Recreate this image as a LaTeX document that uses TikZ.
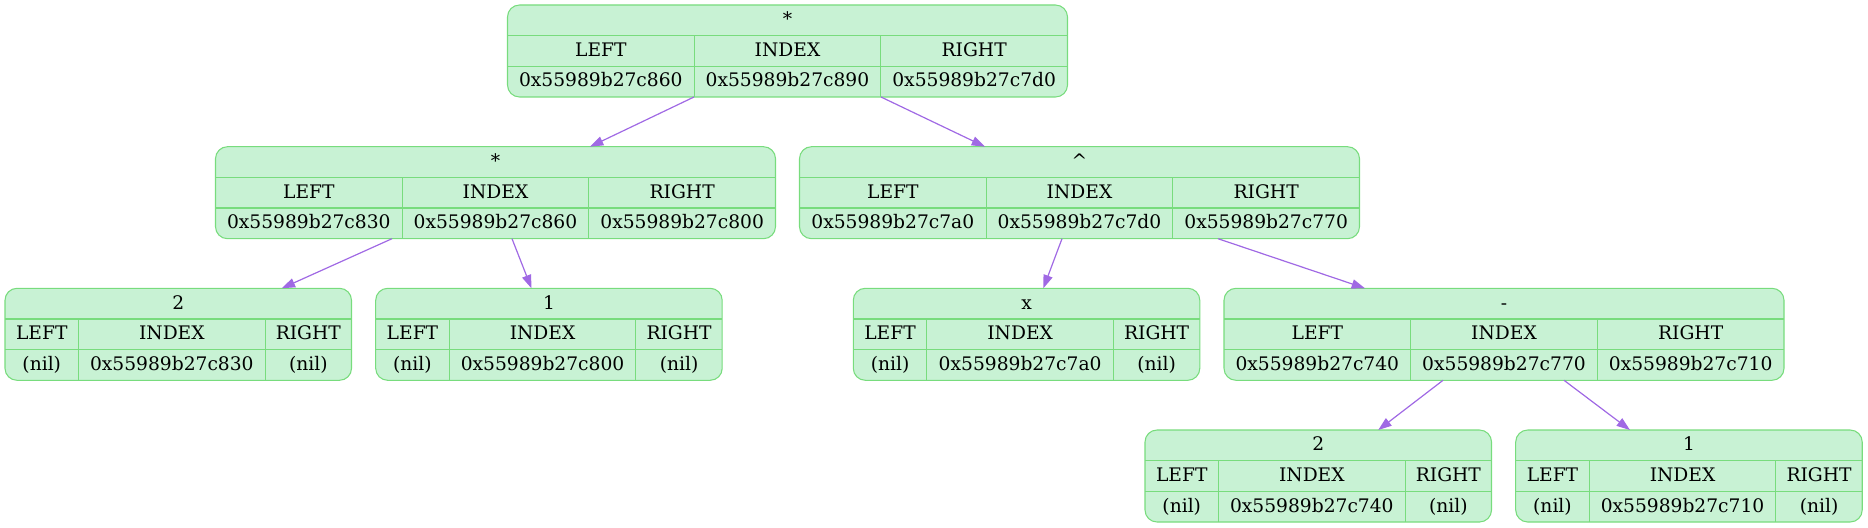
\documentclass[tikz,border=0pt]{standalone}
\usepackage{fontspec}
\setmainfont{DejaVu Serif}
\usetikzlibrary{calc,arrows.meta}
\definecolor{recfill}{RGB}{200,242,212}
\definecolor{recdraw}{RGB}{120,220,125}
\definecolor{edgecol}{RGB}{160,105,228}
\tikzset{
  recbox/.style={draw=recdraw, fill=recfill, line width=0.8pt, rounded corners=9pt,
    minimum height=69pt, inner sep=0pt, outer sep=0pt},
  recline/.style={draw=recdraw, line width=0.8pt},
  lbl/.style={anchor=base, inner sep=0pt, font=\fontsize{14pt}{16pt}\selectfont},
  edge/.style={draw=edgecol, line width=0.9pt, -{Triangle[length=10pt,width=7pt]}},
}
% name, left, top, title, v1, v2, v3
\newcommand\bigrec[7]{%
  \node[recbox, minimum width=420pt] (#1) at ({#2+280},{#3+46}) {};
  \draw[recline] ({#2},{#3+30.67}) -- ++(560,0);
  \draw[recline] ({#2},{#3+61.33}) -- ++(560,0);
  \draw[recline] ({#2+186.67},{#3+30.67}) -- ++(0,61.33);
  \draw[recline] ({#2+373.33},{#3+30.67}) -- ++(0,61.33);
  \node[lbl] (#1-t) at ({#2+280},{#3+20.7}) {#4};
  \node[lbl] (#1-hl) at ({#2+93.33},{#3+51.3}) {LEFT};
  \node[lbl] (#1-hi) at ({#2+280},{#3+51.3}) {INDEX};
  \node[lbl] (#1-hr) at ({#2+466.67},{#3+51.3}) {RIGHT};
  \node[lbl] (#1-vl) at ({#2+93.33},{#3+82}) {#5};
  \node[lbl] (#1-vi) at ({#2+280},{#3+82}) {#6};
  \node[lbl] (#1-vr) at ({#2+466.67},{#3+82}) {#7};
}
% name, left, top, title, index
\newcommand\smallrec[5]{%
  \node[recbox, minimum width=259.875pt] (#1) at ({#2+173.25},{#3+46}) {};
  \draw[recline] ({#2},{#3+30.67}) -- ++(346.5,0);
  \draw[recline] ({#2},{#3+61.33}) -- ++(346.5,0);
  \draw[recline] ({#2+73.5},{#3+30.67}) -- ++(0,61.33);
  \draw[recline] ({#2+260.2},{#3+30.67}) -- ++(0,61.33);
  \node[lbl] (#1-t) at ({#2+173.25},{#3+20.7}) {#4};
  \node[lbl] (#1-hl) at ({#2+36.75},{#3+51.3}) {LEFT};
  \node[lbl] (#1-hi) at ({#2+166.85},{#3+51.3}) {INDEX};
  \node[lbl] (#1-hr) at ({#2+303.35},{#3+51.3}) {RIGHT};
  \node[lbl] (#1-vl) at ({#2+36.75},{#3+82}) {(nil)};
  \node[lbl] (#1-vi) at ({#2+166.85},{#3+82}) {#5};
  \node[lbl] (#1-vr) at ({#2+303.35},{#3+82}) {(nil)};
}
\begin{document}
\begin{tikzpicture}[x=0.75pt,y=-0.75pt]
\useasboundingbox (0,0) rectangle (1868,528);
\bigrec{root}{507.5}{5}{*}{0x55989b27c860}{0x55989b27c890}{0x55989b27c7d0}
\bigrec{mula}{215.5}{146.7}{*}{0x55989b27c830}{0x55989b27c860}{0x55989b27c800}
\bigrec{pow}{799.5}{146.7}{\textasciicircum}{0x55989b27c7a0}{0x55989b27c7d0}{0x55989b27c770}
\smallrec{twoa}{5}{288.3}{2}{0x55989b27c830}
\smallrec{onea}{375.7}{288.3}{1}{0x55989b27c800}
\smallrec{varx}{853.3}{288.3}{x}{0x55989b27c7a0}
\bigrec{minus}{1224}{288.3}{-}{0x55989b27c740}{0x55989b27c770}{0x55989b27c710}
\smallrec{twob}{1145}{430}{2}{0x55989b27c740}
\smallrec{oneb}{1515.7}{430}{1}{0x55989b27c710}

\draw[edge] ($(root.south)+(-93.5,0)$) -- ($(mula.north)+(94.5,0)$);
\draw[edge] ($(root.south)+(93.5,0)$) -- ($(pow.north)+(-94.5,0)$);
\draw[edge] ($(mula.south)+(-103.5,0)$) -- ($(twoa.north)+(103.5,0)$);
\draw[edge] ($(mula.south)+(16.5,0)$) -- ($(onea.north)+(-17.5,0)$);
\draw[edge] ($(pow.south)+(-17.5,0)$) -- ($(varx.north)+(16.8,0)$);
\draw[edge] ($(pow.south)+(138.5,0)$) -- ($(minus.north)+(-139,0)$);
\draw[edge] ($(minus.south)+(-61,0)$) -- ($(twob.north)+(60,0)$);
\draw[edge] ($(minus.south)+(60,0)$) -- ($(oneb.north)+(-59,0)$);
\end{tikzpicture}
\end{document}
